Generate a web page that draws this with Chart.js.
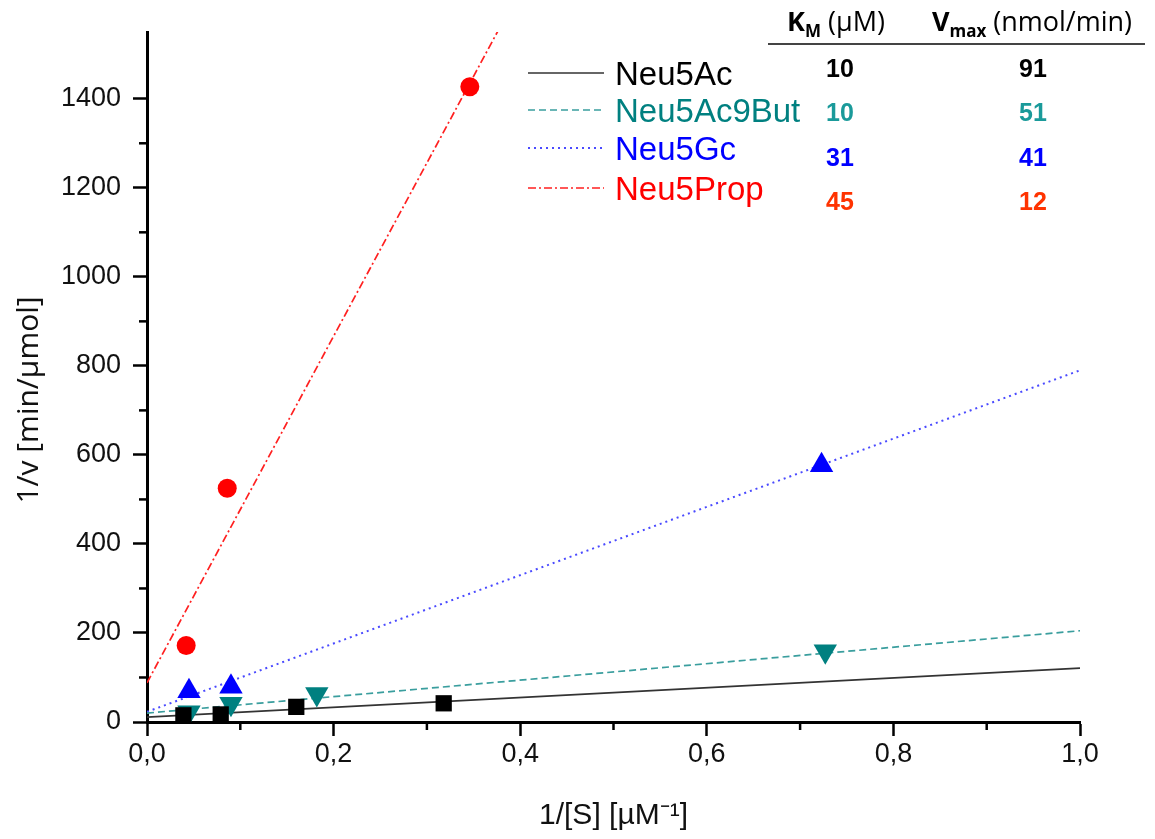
<!DOCTYPE html>
<html>
<head>
<meta charset="utf-8">
<script src="https://cdn.jsdelivr.net/npm/chart.js@4.4.0/dist/chart.umd.min.js"></script>
<style>
  html, body { margin: 0; padding: 0; background: #fff; }
  #wrap { width: 1155px; height: 839px; }
</style>
</head>
<body>
<div id="wrap"><canvas id="lwb"></canvas></div>
<script>
// Pontos medidos (1/[S], 1/v)
const neu5AcX = [0.039, 0.079, 0.160, 0.318];
const neu5AcY = [15, 17, 34, 42];
const neu5ButX = [0.045, 0.090, 0.182, 0.727];
const neu5ButY = [22, 41, 63, 159];
const neu5GcX = [0.045, 0.090, 0.723];
const neu5GcY = [69, 79, 577];
const neu5PropX = [0.042, 0.086, 0.346];
const neu5PropY = [172, 525, 1427];

// Retas de ajuste: valor em 1/[S] = 0 e 1/[S] = 1
const fitX = [0, 1];
const neu5AcFit = [11, 121];
const neu5ButFit = [20, 205];
const neu5GcFit = [23, 790];
const neu5PropFit = [88, 3981];

// Tabela KM / Vmax
const names = ["Neu5Ac", "Neu5Ac9But", "Neu5Gc", "Neu5Prop"];
const kmValues = ["10", "10", "31", "45"];
const vmaxValues = ["91", "51", "41", "12"];

const zip = (xs, ys) => xs.map((x, i) => ({ x: x, y: ys[i] }));

const lineColors = ["#333333", "#3a9e9e", "#4a4aff", "#ff2020"];
const lineDashes = [[], [7, 4], [2, 4], [8, 3, 2, 3]];
const textColors = ["#000000", "#008080", "#0000ff", "#ff0000"];
const tableColors = ["#000000", "#1a9a9a", "#0000ff", "#ff3300"];

// Legenda dentro do gráfico
const legendBox = {
  id: "legendBox",
  afterDatasetsDraw(chart) {
    const ctx = chart.ctx;
    const rows = [85, 122, 160, 200];
    ctx.save();
    names.forEach((n, i) => {
      ctx.strokeStyle = lineColors[i];
      ctx.lineWidth = i === 2 ? 2 : 1.7;
      ctx.setLineDash(lineDashes[i]);
      ctx.beginPath();
      ctx.moveTo(528, rows[i] - 12);
      ctx.lineTo(604, rows[i] - 12);
      ctx.stroke();
      ctx.setLineDash([]);
      ctx.fillStyle = textColors[i];
      ctx.font = "33px 'Liberation Sans', Arial, sans-serif";
      ctx.textAlign = "left";
      ctx.textBaseline = "alphabetic";
      ctx.fillText(n, 615, rows[i]);
    });
    ctx.restore();
  }
};

// Tabela de KM e Vmax + título do eixo y
const kineticTable = {
  id: "kineticTable",
  afterDraw(chart) {
    const ctx = chart.ctx;
    ctx.save();
    ctx.fillStyle = "#000";
    ctx.textBaseline = "alphabetic";
    ctx.textAlign = "left";
    const big = "bold 27px 'Open Sans', sans-serif";
    const sub = "bold 17px 'Open Sans', sans-serif";
    const reg = "27px 'Open Sans', sans-serif";
    function header(main, s, rest, cx) {
      ctx.font = big; const w1 = ctx.measureText(main).width;
      ctx.font = sub; const w2 = ctx.measureText(s).width;
      ctx.font = reg; const w3 = ctx.measureText(rest).width;
      let x = cx - (w1 + w2 + w3) / 2;
      ctx.font = big; ctx.fillText(main, x, 31); x += w1;
      ctx.font = sub; ctx.fillText(s, x, 37); x += w2;
      ctx.font = reg; ctx.fillText(rest, x, 31);
    }
    header("K", "M", " (µM)", 836);
    header("V", "max", " (nmol/min)", 1032);
    ctx.strokeStyle = "#444";
    ctx.lineWidth = 2;
    ctx.beginPath();
    ctx.moveTo(768, 44);
    ctx.lineTo(1145, 44);
    ctx.stroke();
    const rows = [77, 121, 166, 210];
    ctx.font = "bold 25px 'Liberation Sans', Arial, sans-serif";
    ctx.textAlign = "center";
    kmValues.forEach((v, i) => {
      ctx.fillStyle = tableColors[i];
      ctx.fillText(v, 840, rows[i]);
      ctx.fillText(vmaxValues[i], 1033, rows[i]);
    });
    // título do eixo y (um pouco abaixo do centro, como no original)
    ctx.translate(29, 400);
    ctx.rotate(-Math.PI / 2);
    ctx.fillStyle = "#111";
    ctx.font = "30px 'Open Sans', sans-serif";
    ctx.textAlign = "center";
    ctx.textBaseline = "middle";
    ctx.fillText("1/v [min/µmol]", 0, 0);
    ctx.restore();
  }
};

// Marcas menores dos eixos
const minorTicks = {
  id: "minorTicks",
  afterDraw(chart) {
    const ctx = chart.ctx;
    const xs = chart.scales.x;
    const ys = chart.scales.y;
    ctx.save();
    ctx.strokeStyle = "#000";
    ctx.lineWidth = 2.5;
    xs.ticks.forEach((t) => {
      if (Math.round(t.value * 10) % 2 === 0) return;
      const px = xs.getPixelForValue(t.value);
      ctx.beginPath();
      ctx.moveTo(px, xs.top);
      ctx.lineTo(px, xs.top + 8);
      ctx.stroke();
    });
    ys.ticks.forEach((t) => {
      if (t.value % 200 === 0) return;
      const py = ys.getPixelForValue(t.value);
      ctx.beginPath();
      ctx.moveTo(ys.right, py);
      ctx.lineTo(ys.right - 8, py);
      ctx.stroke();
    });
    ctx.restore();
  }
};

const fitSet = (data, i) => ({
  data: zip(fitX, data),
  showLine: true,
  pointRadius: 0,
  borderColor: lineColors[i],
  borderWidth: i === 2 ? 2 : 1.7,
  borderDash: lineDashes[i],
  fill: false,
});

new Chart(document.getElementById("lwb"), {
  type: "scatter",
  data: {
    datasets: [
      { label: "Neu5Ac", data: zip(neu5AcX, neu5AcY), pointStyle: "rect", pointRadius: 11.5, backgroundColor: "#000", borderColor: "#000", borderWidth: 0 },
      { label: "Neu5Ac9But", data: zip(neu5ButX, neu5ButY), pointStyle: "triangle", rotation: 180, pointRadius: 13.5, backgroundColor: "#008080", borderColor: "#008080", borderWidth: 0 },
      { label: "Neu5Gc", data: zip(neu5GcX, neu5GcY), pointStyle: "triangle", pointRadius: 13.5, backgroundColor: "#0000ff", borderColor: "#0000ff", borderWidth: 0 },
      { label: "Neu5Prop", data: zip(neu5PropX, neu5PropY), pointStyle: "circle", pointRadius: 9.5, backgroundColor: "#ff0000", borderColor: "#ff0000", borderWidth: 0 },
      fitSet(neu5AcFit, 0),
      fitSet(neu5ButFit, 1),
      fitSet(neu5GcFit, 2),
      fitSet(neu5PropFit, 3),
    ],
  },
  options: {
    responsive: true,
    maintainAspectRatio: false,
    animation: false,
    events: [],
    layout: { padding: { top: 32, right: 75, left: 0, bottom: 0 } },
    plugins: {
      legend: { display: false },
      tooltip: { enabled: false },
    },
    scales: {
      x: {
        type: "linear",
        min: 0,
        max: 1,
        afterFit: (s) => { s.height = 117; },
        border: { display: true, color: "#000", width: 3 },
        grid: {
          drawOnChartArea: false,
          drawTicks: true,
          tickLength: 14,
          tickWidth: 2.5,
          tickColor: (c) => (c.tick && Math.round(c.tick.value * 10) % 2 === 0 ? "#000" : "rgba(0,0,0,0)"),
        },
        ticks: {
          stepSize: 0.1,
          autoSkip: false,
          maxRotation: 0,
          padding: 2,
          color: "#111",
          font: { family: "'Liberation Sans', Arial, sans-serif", size: 27 },
          callback: (v) => (Math.round(v * 10) % 2 === 0 ? v.toFixed(1).replace(".", ",") : ""),
        },
        title: {
          display: true,
          text: "1/[S] [µM⁻¹]",
          color: "#111",
          font: { family: "'Liberation Sans', Arial, sans-serif", size: 30 },
          padding: { top: 0, bottom: 5 },
        },
      },
      y: {
        type: "linear",
        min: 0,
        max: 1550,
        afterFit: (s) => { s.width = 147; },
        afterBuildTicks: (s) => { s.ticks = s.ticks.filter((t) => t.value % 100 === 0); },
        border: { display: true, color: "#000", width: 3 },
        grid: {
          drawOnChartArea: false,
          drawTicks: true,
          tickLength: 14,
          tickWidth: 2.5,
          tickColor: (c) => (c.tick && c.tick.value % 200 === 0 ? "#000" : "rgba(0,0,0,0)"),
        },
        ticks: {
          stepSize: 100,
          autoSkip: false,
          padding: 12,
          color: "#111",
          font: { family: "'Liberation Sans', Arial, sans-serif", size: 27 },
          callback: (v) => (v % 200 === 0 ? String(v) : ""),
        },
        title: { display: false },
      },
    },
  },
  plugins: [legendBox, kineticTable, minorTicks],
});
</script>
</body>
</html>
